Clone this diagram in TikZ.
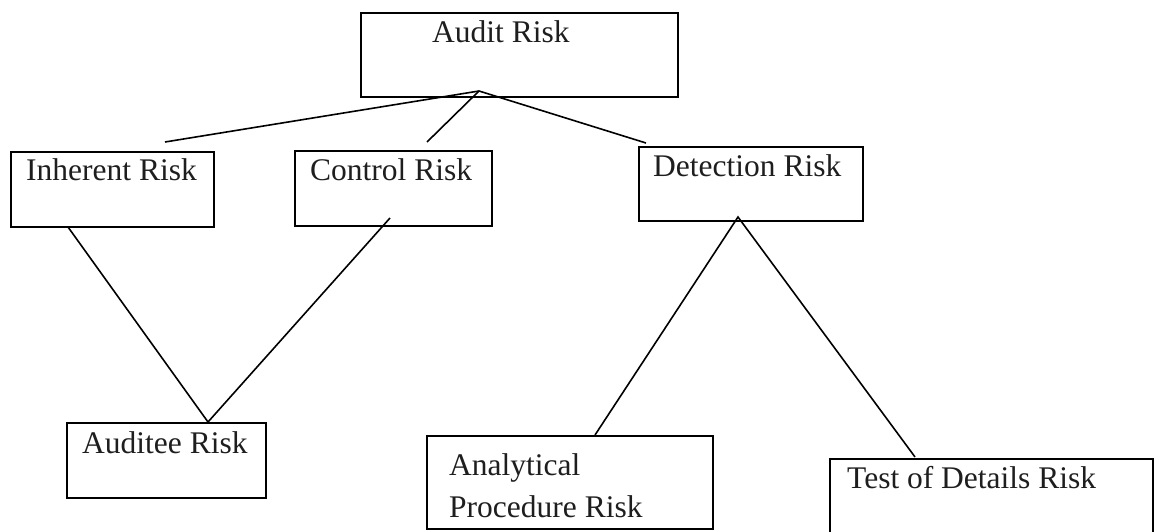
\documentclass[tikz,border=0pt]{standalone}
\usepackage{fontspec}
\setmainfont{Liberation Serif}
\usepackage{tikz}
\usetikzlibrary{positioning}
\definecolor{ARInk}{HTML}{000000}
\definecolor{ARText}{HTML}{1E1E1E}
\newcommand{\riskbox}[5]{%
  \node[riskframe, minimum width=#4, minimum height=#5] (#1) at ({#2 + #4/2},{#3 + #5/2}) {};
}
\newcommand{\risklabel}[4]{%
  \node[risktext] (#1) at (#2,#3) {#4};
}

\begin{document}
\begin{tikzpicture}[x=1pt,y=-1pt,
  riskframe/.style={draw=ARInk, line width=2pt, inner sep=0pt, outer sep=0pt},
  risktext/.style={anchor=base west, inner sep=0pt, text=ARText, font=\fontsize{31.5}{42}\selectfont},
  link/.style={draw=ARInk, line width=1.6pt}]
  \useasboundingbox (0,0) rectangle (1155,532);

  % boxes
  \riskbox{audit}{361}{13}{317}{84}
  \riskbox{inherent}{11}{152}{203}{75}
  \riskbox{control}{295}{151}{197}{75}
  \riskbox{detection}{639}{147}{224}{74}
  \riskbox{auditee}{67}{423}{199}{75}
  \riskbox{analytical}{427}{436}{286}{93}
  \riskbox{testdetails}{830}{459}{323}{90}

  % labels
  \risklabel{auditlbl}{432}{43}{Audit Risk}
  \risklabel{inherentlbl}{26}{180}{Inherent Risk}
  \risklabel{controllbl}{310}{180}{Control Risk}
  \risklabel{detectionlbl}{653}{176}{Detection Risk}
  \risklabel{auditeelbl}{82}{453}{Auditee Risk}
  \risklabel{analyticallbl}{449}{475}{Analytical}
  \risklabel{procedurelbl}{449}{517}{Procedure Risk}
  \risklabel{testdetailslbl}{847}{488}{Test of Details Risk}

  % connector ends
  \coordinate (auditapex) at (479,91);
  \coordinate (inherenttop) at (165,142);
  \coordinate (controltop) at (427,142);
  \coordinate (detectiontop) at (646,143);
  \coordinate (inherentfoot) at (68,227);
  \coordinate (controlfoot) at (390,218);
  \coordinate (auditeetop) at (208,422);
  \coordinate (detectionapex) at (738,217);
  \coordinate (analyticaltop) at (595,435);
  \coordinate (testtop) at (915,457);

  \draw[link] (inherenttop) -- (auditapex) -- (detectiontop);
  \draw[link] (auditapex) -- (controltop);
  \draw[link] (inherentfoot) -- (auditeetop) -- (controlfoot);
  \draw[link] (analyticaltop) -- (detectionapex) -- (testtop);
\end{tikzpicture}
\end{document}
